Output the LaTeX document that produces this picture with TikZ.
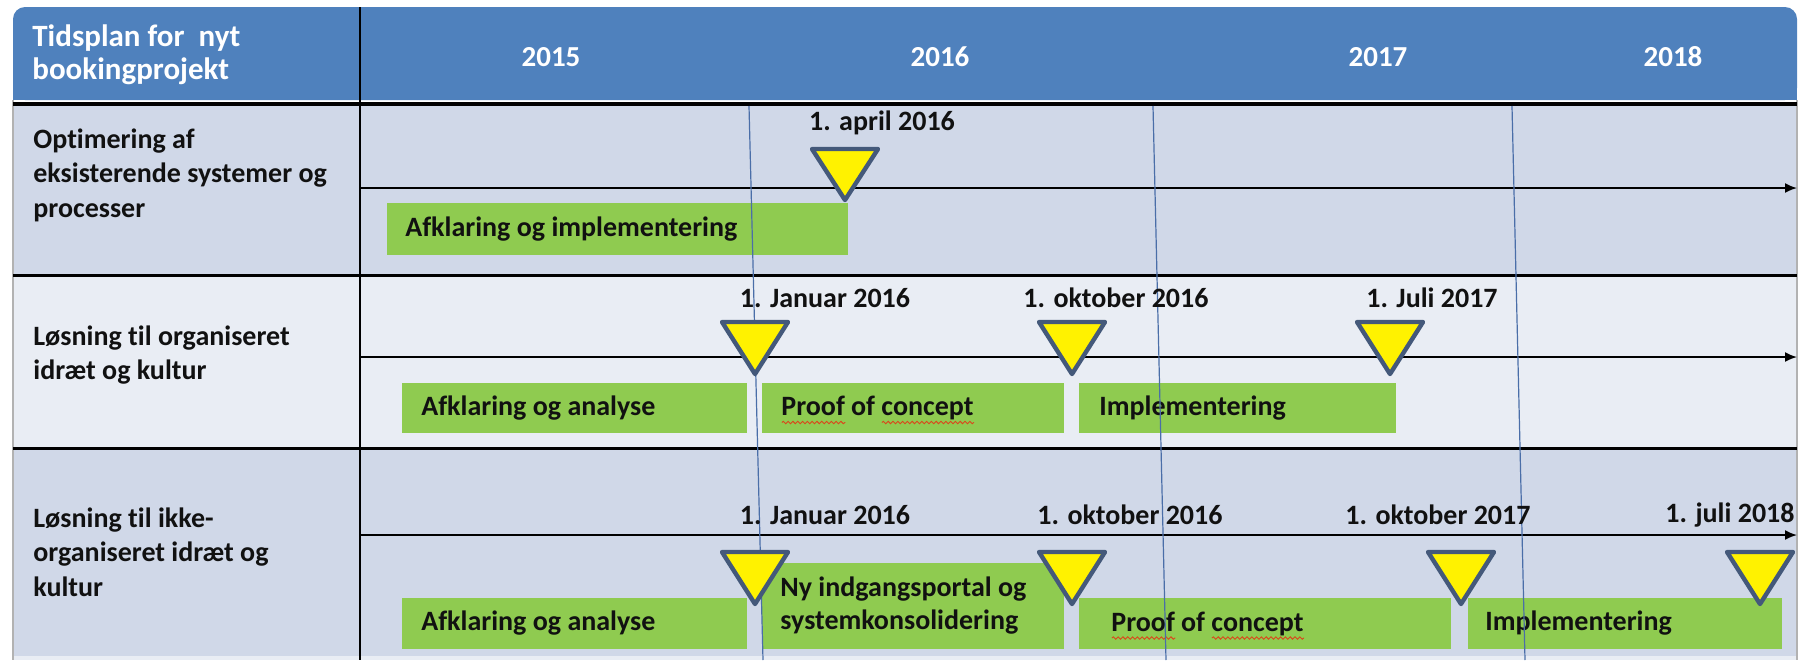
\documentclass[tikz,border=0pt]{standalone}
\usepackage{fontspec}
\setmainfont{Carlito}[Ligatures=NoCommon]
\usetikzlibrary{arrows.meta,decorations.pathmorphing}
\definecolor{hdr}{HTML}{4F81BD}
\definecolor{rowA}{HTML}{D0D8E8}
\definecolor{rowB}{HTML}{E9EDF4}
\definecolor{barg}{HTML}{8FCB50}
\definecolor{tristroke}{HTML}{44597A}
\definecolor{yearln}{HTML}{4A6EA8}
\definecolor{txt}{HTML}{111111}
\definecolor{wave}{HTML}{D9481C}
\newlength\spellw
\newcommand\spellmark[1]{\settowidth\spellw{#1}\leavevmode\rlap{\raisebox{-3.5pt}[0pt][0pt]{\tikz[baseline=0pt]\draw[wave,line width=0.45pt,decorate,decoration={snake,amplitude=0.6pt,segment length=2.4pt}] (0pt,0pt) -- (\spellw,0pt);}}#1}
\tikzset{
 lbl/.style={font=\bfseries\fontsize{14}{17.25}\selectfont, text=txt, align=left, anchor=west, inner sep=0pt},
 hdrtxt/.style={font=\bfseries\fontsize{14.5}{17.5}\selectfont, text=white, inner sep=0pt},
 titletxt/.style={font=\bfseries\fontsize{15.5}{16.5}\selectfont, text=white, inner sep=0pt, align=left, anchor=west},
 bartxt/.style={font=\bfseries\fontsize{14}{16.5}\selectfont, text=txt, align=left, anchor=west, inner sep=0pt},
 msl/.style={font=\bfseries\fontsize{14}{17}\selectfont, text=txt, inner sep=0pt},
 barbox/.style={fill=barg},
 tri/.style={fill=yellow, draw=tristroke, line width=2.2pt, line join=round},
 timeline/.style={draw=black, line width=0.9pt, -{Latex[length=6pt,width=5pt]}},
 yearline/.style={draw=yearln, line width=0.6pt},
}
\newcommand\ganttbar[7]{%
 \path[barbox] (#2,#3) rectangle (#4,#5);
 \node[bartxt] (#1) at ({#6},{(#3+#5)/2}) {#7};}
\newcommand\milestone[4]{%
 \draw[tri] ({#2-33},#3) -- ({#2+33},#3) -- (#2,#4) -- cycle;
 \coordinate (#1) at (#2,#4);}
\begin{document}
\begin{tikzpicture}[x=0.5pt,y=-0.5pt]
\useasboundingbox (0,0) rectangle (1801,660);
% header
\fill[hdr, rounded corners=6pt] (13,7) rectangle (1797,100);
\fill[hdr] (13,40) rectangle (1797,100);
% rows
\fill[rowA] (13,106) rectangle (1797,275);
\fill[rowB] (13,275) rectangle (1797,448);
\fill[rowA] (13,448) rectangle (1797,656);
\fill[rowB] (13,656) rectangle (1797,660);
\draw[gray!60, line width=0.6pt] (13,100) -- (13,660) (1797,100) -- (1797,660);
% black grid lines
\draw[line width=2.2pt] (13,104) -- (1797,104);
\draw[line width=1.5pt] (13,275) -- (1797,275);
\draw[line width=1.5pt] (13,448) -- (1797,448);
\draw[line width=1.1pt] (360,7) -- (360,660);
% header texts
\node[titletxt] (title) at (32,55) {Tidsplan for\ \ nyt\\bookingprojekt};
\node[hdrtxt] (y2015) at (551,57) {2015};
\node[hdrtxt] (y2016) at (940,57) {2016};
\node[hdrtxt] (y2017) at (1378,57) {2017};
\node[hdrtxt] (y2018) at (1673,57) {2018};
% row labels
\node[lbl] (r1) at (33,175) {Optimering af\\eksisterende systemer og\\processer};
\node[lbl] (r2) at (33,355) {Løsning til organiseret\\idræt og kultur};
\node[lbl] (r3) at (33,552) {Løsning til ikke-\\organiseret idræt og\\kultur};
% timelines
\coordinate (t1s) at (360,188); \coordinate (t1e) at (1797,188);
\coordinate (t2s) at (360,357); \coordinate (t2e) at (1797,357);
\coordinate (t3s) at (360,535); \coordinate (t3e) at (1797,535);
\draw[timeline] (t1s) -- (t1e);
\draw[timeline] (t2s) -- (t2e);
\draw[timeline] (t3s) -- (t3e);
% bars
\ganttbar{b11}{387}{203}{848}{255}{405}{Afklaring og implementering}
\ganttbar{b21}{402}{383}{747}{433}{421}{Afklaring og analyse}
\ganttbar{b22}{762}{383}{1064}{433}{781}{\spellmark{Proof} of \spellmark{concept}}
\ganttbar{b23}{1079}{383}{1396}{433}{1099}{Implementering}
\ganttbar{b31}{402}{598}{747}{649}{421}{Afklaring og analyse}
\ganttbar{b32}{762}{563}{1064}{649}{780}{Ny indgangsportal og\\systemkonsolidering}
\ganttbar{b33}{1079}{598}{1451}{649}{1111}{\spellmark{Proof} of \spellmark{concept}}
\ganttbar{b34}{1468}{598}{1782}{649}{1485}{Implementering}
% year dividers
\coordinate (v1a) at (749,106); \coordinate (v1b) at (763,660);
\coordinate (v2a) at (1153,106); \coordinate (v2b) at (1166,660);
\coordinate (v3a) at (1512,106); \coordinate (v3b) at (1525,660);
\draw[yearline] (v1a) -- (v1b);
\draw[yearline] (v2a) -- (v2b);
\draw[yearline] (v3a) -- (v3b);
% milestones
\milestone{m11}{845}{149}{200}
\milestone{m21}{755}{322}{374}
\milestone{m22}{1072}{322}{374}
\milestone{m23}{1390}{322}{374}
\milestone{m31}{755}{552}{604}
\milestone{m32}{1072}{552}{604}
\milestone{m33}{1461}{552}{604}
\milestone{m34}{1760}{552}{604}
% milestone labels
\node[msl] (l11) at (882,123) {1. april 2016};
\node[msl] (l21) at (825,298) {1. Januar 2016};
\node[msl] (l22) at (1116,298) {1. oktober 2016};
\node[msl] (l23) at (1432,298) {1. Juli 2017};
\node[msl] (l31) at (825,515) {1. Januar 2016};
\node[msl] (l32) at (1130,515) {1. oktober 2016};
\node[msl] (l33) at (1438,515) {1. oktober 2017};
\node[msl] (l34) at (1730,515) {1. juli 2018};
\end{tikzpicture}
\end{document}
